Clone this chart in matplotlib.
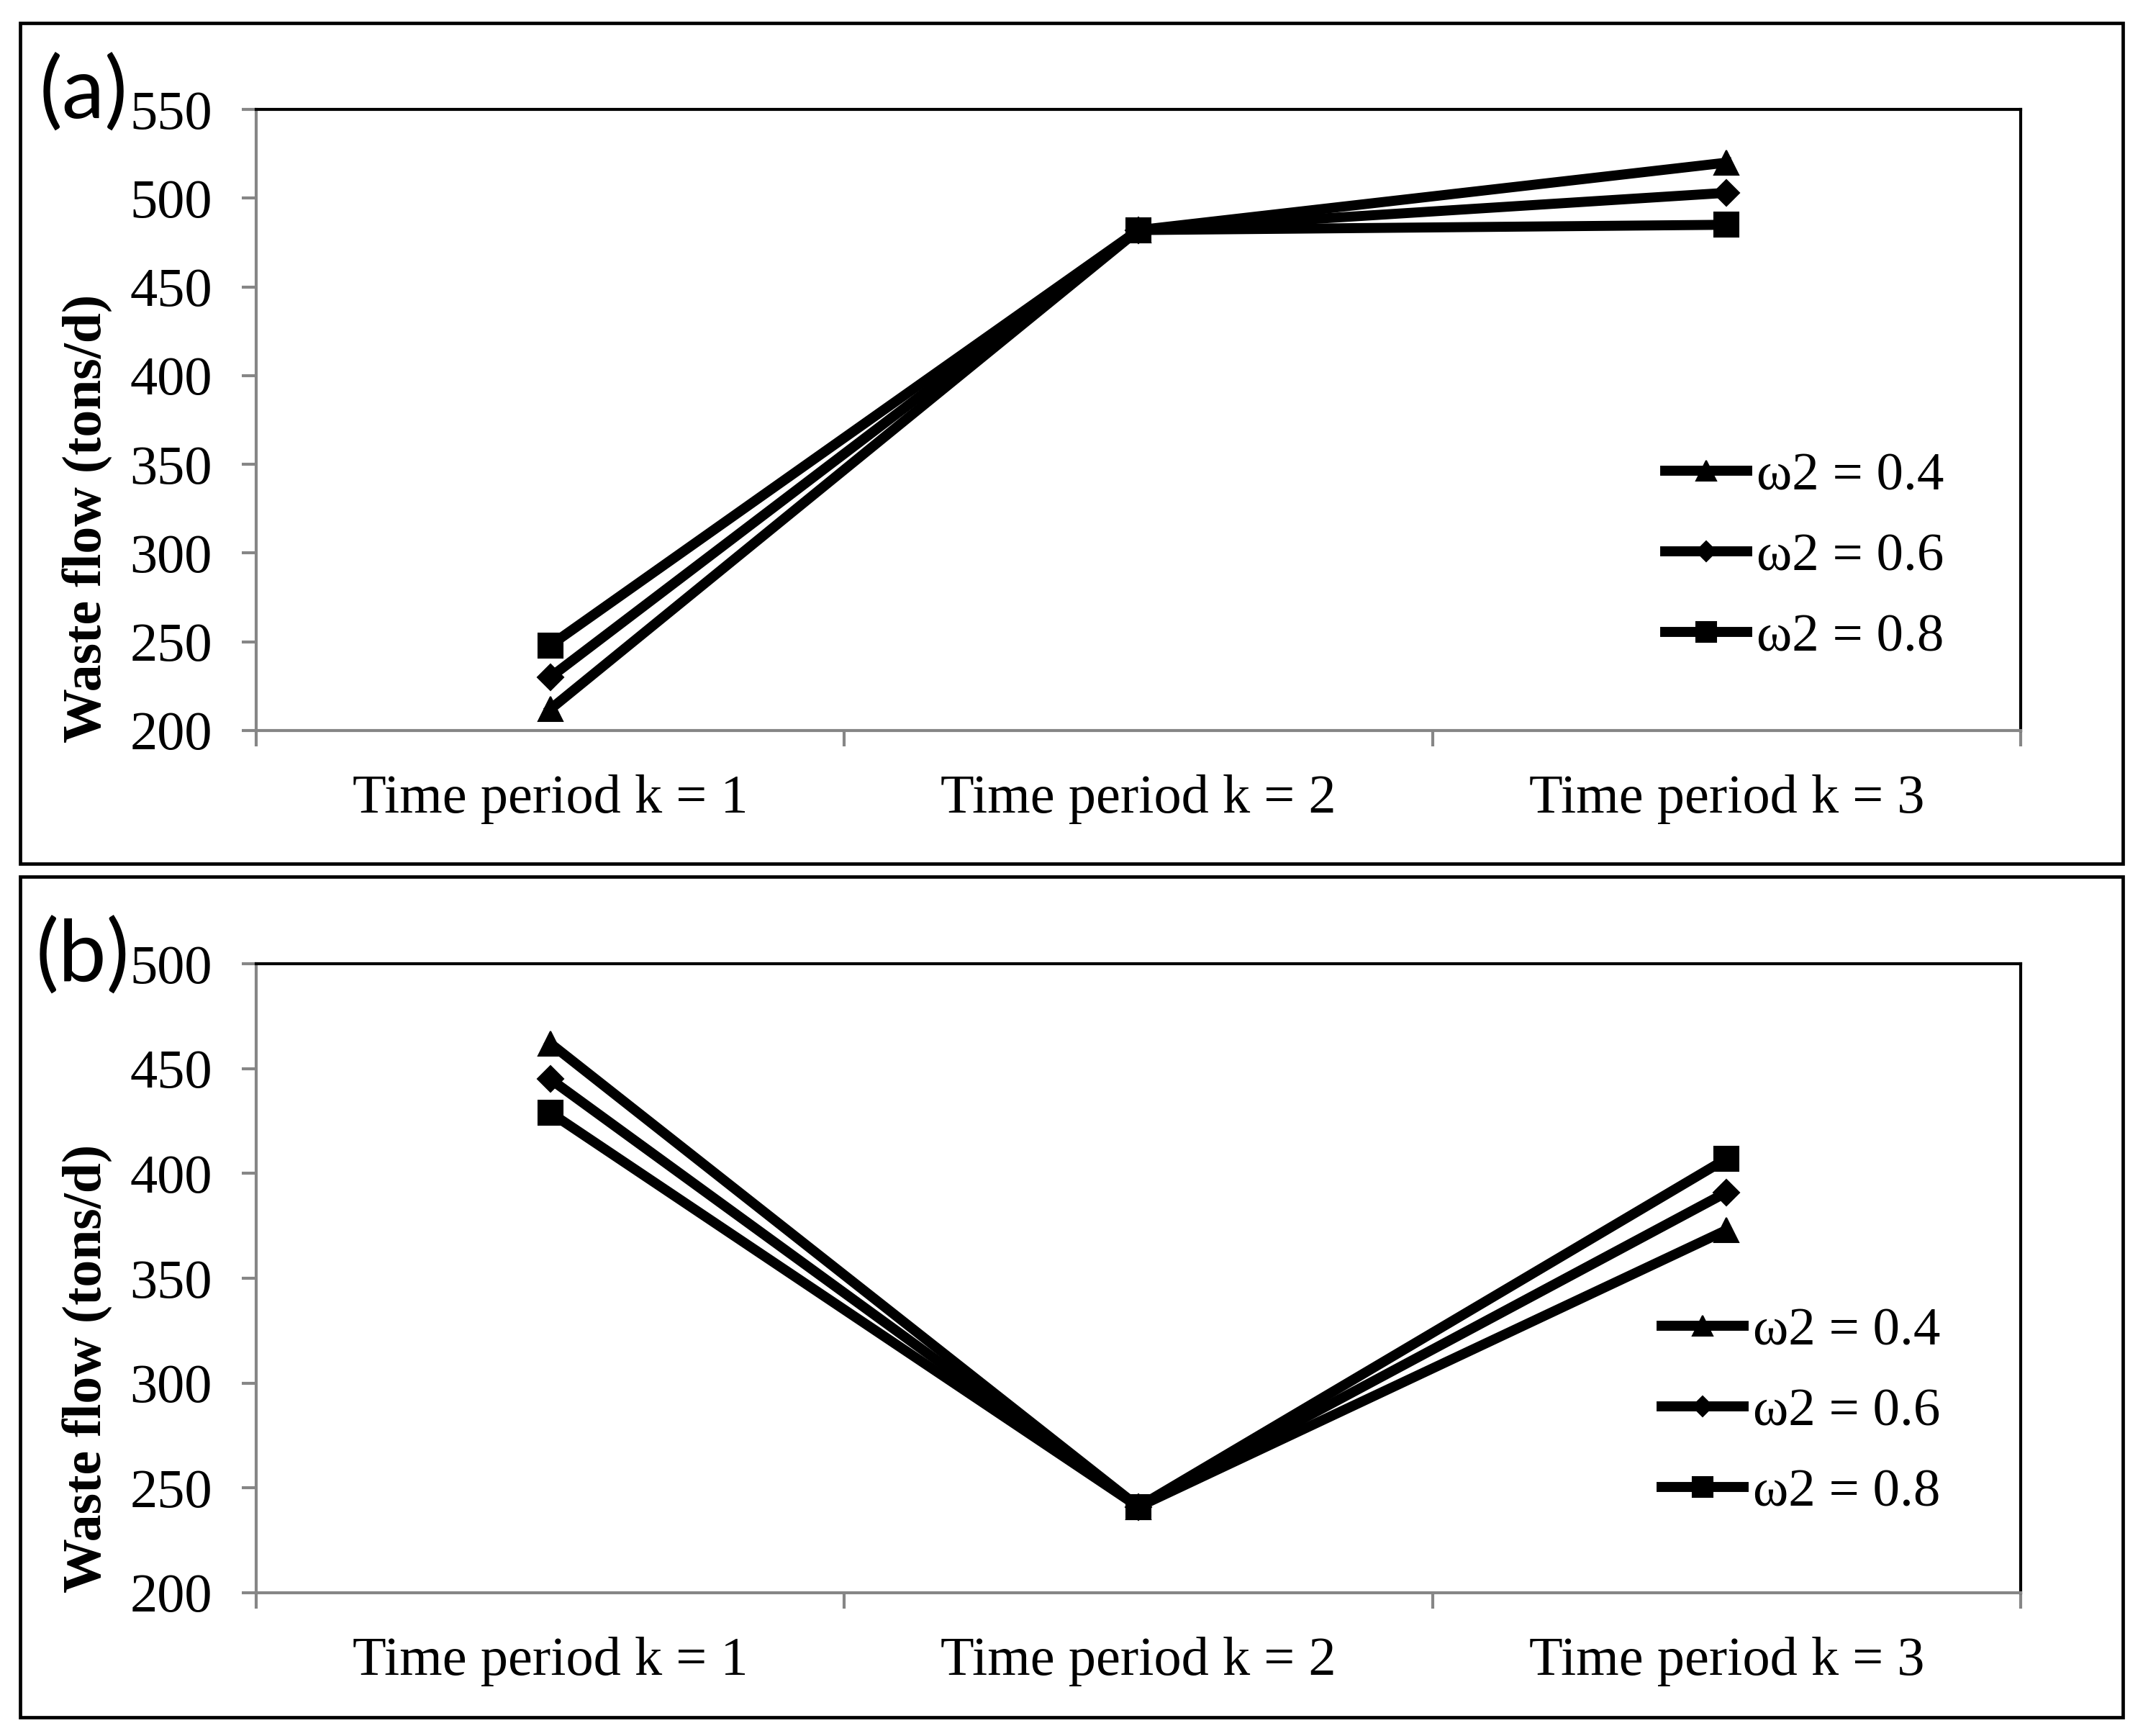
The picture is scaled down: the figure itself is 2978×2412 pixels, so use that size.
import matplotlib
matplotlib.use('Agg')
import matplotlib.pyplot as plt
from matplotlib.patches import Rectangle

plt.rcParams['font.family'] = ['Liberation Serif', 'DejaVu Serif']

W, H = 2978, 2412

periods = ['Time period k = 1', 'Time period k = 2', 'Time period k = 3']
series_labels = ['ω2 = 0.4', 'ω2 = 0.6', 'ω2 = 0.8']

# panel (a)
a_w04 = [212, 482, 520]
a_w06 = [230, 482, 503]
a_w08 = [248, 482, 485]
a_yticks = [200, 250, 300, 350, 400, 450, 500, 550]

# panel (b)
b_w04 = [462, 241, 373]
b_w06 = [445, 241, 391]
b_w08 = [429, 241, 407]
b_yticks = [200, 250, 300, 350, 400, 450, 500]

GREY = '#868686'
markers = ['^', 'D', 's']
msizes = {'^': 25, 'D': 18, 's': 24}


def fx(px):
    return px / W


def fy(py):
    return 1 - py / H


fig = plt.figure(figsize=(W / 100, H / 100), dpi=100)

# outer frames around each panel
for top, bot in [(32, 1200), (1218, 2386)]:
    fig.patches.append(Rectangle((fx(28), fy(bot)), fx(2950) - fx(28), fy(top) - fy(bot),
                                 transform=fig.transFigure, fill=False,
                                 edgecolor='black', linewidth=3.4))


def draw_panel(ax, series, yticks, tag, tag_xy, ylab_y, leg_xy):
    xs = [0.5, 1.5, 2.5]
    for vals, m, lab in zip(series, markers, series_labels):
        ax.plot(xs, vals, color='black', lw=10, marker=m, ms=msizes[m],
                mfc='black', mec='black', mew=1.5, label=lab)
    ax.set_xlim(0, 3)
    ax.set_ylim(yticks[0], yticks[-1])
    ax.set_yticks(yticks)
    ax.set_xticks([0, 1, 2, 3])
    ax.set_xticklabels([])
    ax.set_xticks(xs, minor=True)
    ax.set_xticklabels(periods, minor=True)

    ax.tick_params(axis='y', direction='out', length=14.4, width=3, color=GREY,
                   pad=29.5, labelsize=55)
    ax.tick_params(axis='x', which='major', direction='out', length=16, width=3, color=GREY)
    ax.tick_params(axis='x', which='minor', length=0, pad=44, labelsize=55)

    for side in ['left', 'bottom']:
        ax.spines[side].set_color(GREY)
        ax.spines[side].set_linewidth(3)
    for side in ['top', 'right']:
        ax.spines[side].set_color('black')
        ax.spines[side].set_linewidth(3)

    fig.text(fx(tag_xy[0]), fy(tag_xy[1]), tag, family='Lato', fontsize=86,
             ha='left', va='baseline')
    fig.text(fx(122), fy(ylab_y), 'Waste flow (tons/d)', fontsize=54.5, fontweight='bold',
             rotation=90, ha='center', va='center')

    ax.legend(loc='upper left', bbox_to_anchor=(fx(leg_xy[0]), fy(leg_xy[1])),
              bbox_transform=fig.transFigure, frameon=False, fontsize=54,
              handlelength=1.52, handletextpad=0.17, labelspacing=0.58,
              borderpad=0, borderaxespad=0, markerscale=0.82)


ax_a = fig.add_axes([fx(356), fy(1015), fx(2808) - fx(356), fy(152) - fy(1015)])
draw_panel(ax_a, [a_w04, a_w06, a_w08], a_yticks, '(a)', (55, 165), 720, (2314, 628))

ax_b = fig.add_axes([fx(356), fy(2213), fx(2808) - fx(356), fy(1339) - fy(2213)])
draw_panel(ax_b, [b_w04, b_w06, b_w08], b_yticks, '(b)', (50, 1364), 1901, (2309, 1816))

fig.savefig('out.png', dpi=100, facecolor='white')
